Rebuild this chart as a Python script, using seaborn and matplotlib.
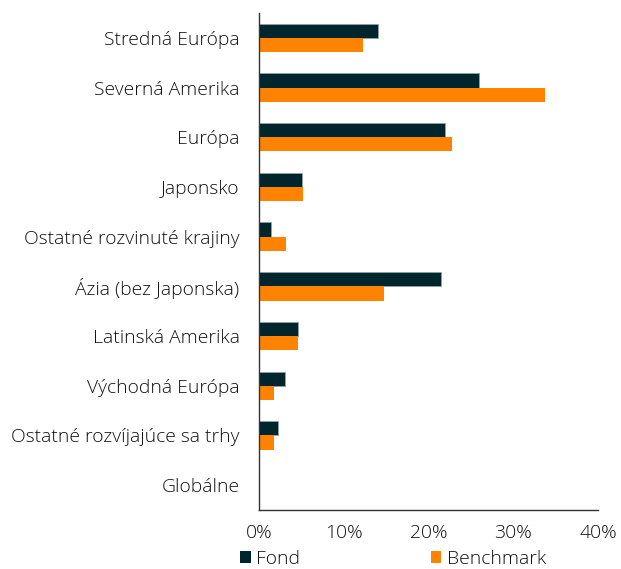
import matplotlib
matplotlib.use("Agg")
import matplotlib.pyplot as plt
import seaborn as sns
import pandas as pd
from matplotlib.ticker import FixedLocator
from matplotlib.patches import Patch

categories = ["Stredná Európa", "Severná Amerika", "Európa", "Japonsko",
              "Ostatné rozvinuté krajiny", "Ázia (bez Japonska)", "Latinská Amerika",
              "Východná Európa", "Ostatné rozvíjajúce sa trhy", "Globálne"]
fond = [14.1, 25.9, 22.0, 5.1, 1.4, 21.5, 4.6, 3.1, 2.3, 0.0]
benchmark = [12.3, 33.8, 22.8, 5.2, 3.2, 14.7, 4.6, 1.8, 1.8, 0.0]
series = ["Fond", "Benchmark"]
colors = ["#00252D", "#FF8200"]
xticks = [0, 10, 20, 30, 40]
xticklabels = ["0%", "10%", "20%", "30%", "40%"]

df = pd.DataFrame({
    "Region": categories * 2,
    "Value": fond + benchmark,
    "Series": ["Fond"] * len(categories) + ["Benchmark"] * len(categories),
})

sns.set_style("white")
plt.rcParams["font.family"] = ["Open Sans", "DejaVu Sans"]
plt.rcParams["font.weight"] = "light"
text_color = "#111111"
fs = 13.9

fig = plt.figure(figsize=(6.21, 5.69), dpi=100)
ax = fig.add_axes([259/621, 1 - 510/569, (598-259)/621, (510-13)/569])

sns.barplot(data=df, y="Region", x="Value", hue="Series", order=categories,
            hue_order=series, palette=colors, width=0.57, orient="h",
            saturation=1, legend=False, ax=ax)

for bar in ax.patches:
    fc = bar.get_facecolor()
    if fc[0] < 0.2:
        bar.set_edgecolor("#8fa3a8")
        bar.set_linewidth(0.6)
    else:
        bar.set_linewidth(0)

ax.set_xlim(0, 40)
ax.set_ylim(len(categories) - 0.5, -0.5)
ax.set_xlabel("")
ax.set_ylabel("")
ax.set_xticks(xticks)
ax.set_xticklabels(xticklabels, fontsize=fs, color=text_color, fontweight="light")
ax.set_yticks(range(len(categories)))
ax.set_yticklabels(categories, fontsize=fs, color=text_color, fontweight="light")
ax.yaxis.set_minor_locator(FixedLocator([i - 0.5 for i in range(len(categories) + 1)]))
ax.tick_params(axis="y", which="major", length=0, pad=14)
ax.tick_params(axis="y", which="minor", length=5, width=1, color="#333333", direction="out")
ax.tick_params(axis="x", which="major", length=5, width=1, color="#333333", direction="out", pad=5)

for s in ["top", "right"]:
    ax.spines[s].set_visible(False)
for s in ["left", "bottom"]:
    ax.spines[s].set_color("#333333")
    ax.spines[s].set_linewidth(1)

handles = [Patch(facecolor=c, edgecolor="none") for c in colors]
fig.legend(handles, series, loc="center left", bbox_to_anchor=(240/621, 1 - 559/569),
           ncol=2, frameon=False, handlelength=0.55, handleheight=0.55,
           handletextpad=0.3, columnspacing=6.75, labelcolor=text_color, borderaxespad=0,
           borderpad=0, prop={"size": fs, "weight": "light"})

fig.savefig("out.png", dpi=100)
